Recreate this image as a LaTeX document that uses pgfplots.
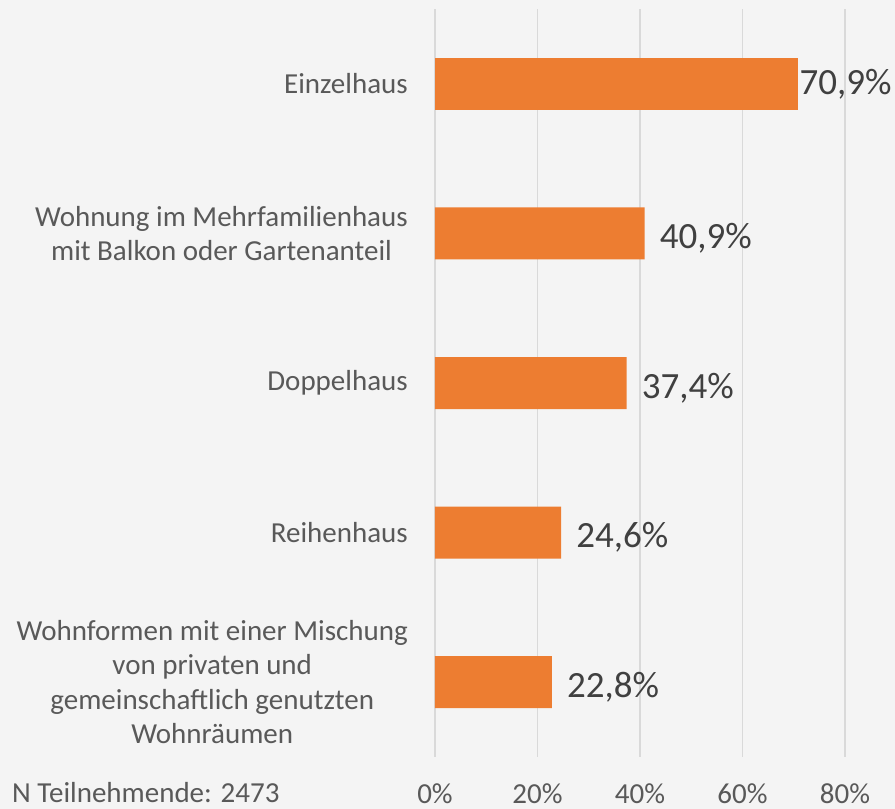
\documentclass[border=0pt]{standalone}
\usepackage{pgfplots}
\pgfplotsset{compat=1.18}
\usepackage{fontspec}
\setmainfont{Carlito}
\definecolor{barc}{HTML}{ED7D31}
\definecolor{txt}{HTML}{595959}
\definecolor{lbl}{HTML}{404040}
\definecolor{gridc}{HTML}{D9D9D9}
\definecolor{bg}{HTML}{F4F4F4}
\begin{document}
\begin{tikzpicture}[x=1pt,y=1pt]
\fill[bg] (0,0) rectangle (895,809);
\useasboundingbox (0,0) rectangle (895,809);
\node[anchor=base west, inner sep=0pt, text=txt, font=\fontsize{29}{34.5}\selectfont] at (12,6) {N Teilnehmende: 2473};
\begin{axis}[
  at={(435pt,52pt)}, anchor=south west,
  scale only axis, width=410pt, height=748pt,
  xmin=0, xmax=80, ymin=-0.5, ymax=4.5, y dir=reverse,
  axis line style={draw=none}, tick style={draw=none},
  major tick length=0pt,
  xtick={0,20,40,60,80}, xticklabels={0\%,20\%,40\%,60\%,80\%},
  ytick={0,1,2,3,4},
  yticklabels={{Einzelhaus},{Wohnung im Mehrfamilienhaus\\mit Balkon oder Gartenanteil},{Doppelhaus},{Reihenhaus},{Wohnformen mit einer Mischung\\von privaten und\\gemeinschaftlich genutzten\\Wohnräumen}},
  xmajorgrids, major grid style={gridc, line width=1.5pt},
  xticklabel style={font=\fontsize{29}{34.5}\selectfont, text=txt, inner sep=0pt, anchor=base, yshift=-46pt},
  yticklabel style={font=\fontsize{29}{34.5}\selectfont, text=txt, align=center, inner sep=0pt, anchor=east, xshift=-27pt},
  xbar, bar width=52pt, bar shift=0pt,
  clip=false,
  point meta=explicit symbolic,
]
\addplot[fill=barc, draw=none, nodes near coords,
  nodes near coords style={font=\fontsize{37}{44}\selectfont, text=lbl, anchor=west, inner sep=0pt, xshift=15pt, yshift=-5pt}]
  coordinates {(40.9,1) [40,9\%] (37.4,2) [37,4\%] (24.6,3) [24,6\%] (22.8,4) [22,8\%]};
\addplot[fill=barc, draw=none, nodes near coords,
  nodes near coords style={font=\fontsize{37}{44}\selectfont, text=lbl, anchor=west, inner sep=0pt, xshift=1pt}]
  coordinates {(70.9,0) [70,9\%]};
\end{axis}
\end{tikzpicture}
\end{document}
